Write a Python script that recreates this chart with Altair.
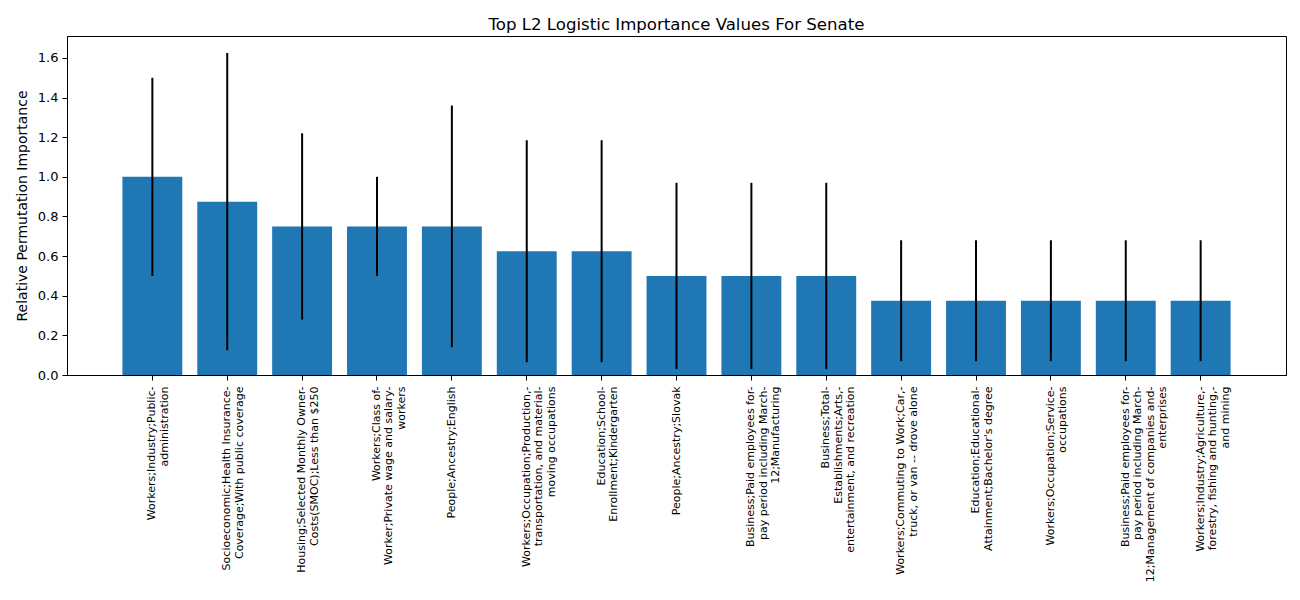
import altair as alt
import pandas as pd

labels = [
    "Workers;Industry;Public-\nadministration",
    "Socioeconomic;Health Insurance-\nCoverage;With public coverage",
    "Housing;Selected Monthly Owner-\nCosts(SMOC);Less than $250",
    "Workers;Class of-\nWorker;Private wage and salary-\nworkers",
    "People;Ancestry;English",
    "Workers;Occupation;Production,-\ntransportation, and material-\nmoving occupations",
    "Education;School-\nEnrollment;Kindergarten",
    "People;Ancestry;Slovak",
    "Business;Paid employees for-\npay period including March-\n12;Manufacturing",
    "Business;Total-\nEstablishments;Arts,-\nentertainment, and recreation",
    "Workers;Commuting to Work;Car,-\ntruck, or van -- drove alone",
    "Education;Educational-\nAttainment;Bachelor's degree",
    "Workers;Occupation;Service-\noccupations",
    "Business;Paid employees for-\npay period including March-\n12;Management of companies and-\nenterprises",
    "Workers;Industry;Agriculture,-\nforestry, fishing and hunting,-\nand mining",
]
values = [1.0, 0.875, 0.75, 0.75, 0.75, 0.625, 0.625, 0.5, 0.5, 0.5,
          0.375, 0.375, 0.375, 0.375, 0.375]
errors = [0.5, 0.75, 0.47, 0.25, 0.61, 0.56, 0.56, 0.47, 0.47, 0.47,
          0.305, 0.305, 0.305, 0.305, 0.305]

df = pd.DataFrame({"label": labels, "value": values, "err": errors})
df["lo"] = df["value"] - df["err"]
df["hi"] = df["value"] + df["err"]

FONT = "DejaVu Sans"

xenc = alt.X(
    "label:N",
    sort=None,
    title=None,
    scale=alt.Scale(paddingInner=0.2, paddingOuter=0.74),
    axis=alt.Axis(
        labelAngle=-90,
        labelExpr="split(datum.label, '\\n')",
        labelFontSize=11,
        labelLineHeight=12.5,
        labelLimit=500,
        labelPadding=6,
        tickSize=5,
        labelColor="black",
        tickColor="black",
        domainColor="black",
        labelFont=FONT,
    ),
)

yscale = alt.Scale(domain=[0, 1.711], nice=False, zero=True)

bars = alt.Chart(df).mark_bar(color="#1f77b4").encode(
    x=xenc,
    y=alt.Y(
        "value:Q",
        scale=yscale,
        title="Relative Permutation Importance",
        axis=alt.Axis(
            values=[0, 0.2, 0.4, 0.6, 0.8, 1.0, 1.2, 1.4, 1.6],
            format=".1f",
            grid=False,
            labelFontSize=13,
            titleFontSize=14,
            titleFontWeight="normal",
            labelColor="black",
            tickColor="black",
            domainColor="black",
            titleColor="black",
            tickSize=5,
            labelPadding=4,
            titlePadding=8,
            labelFont=FONT,
            titleFont=FONT,
        ),
    ),
)

err = alt.Chart(df).mark_rule(color="black", strokeWidth=2).encode(
    x=alt.X("label:N", sort=None),
    y=alt.Y("lo:Q", scale=yscale),
    y2="hi:Q",
)

chart = (
    alt.layer(bars, err)
    .properties(
        width=1219,
        height=339,
        title=alt.TitleParams(
            "Top L2 Logistic Importance Values For Senate",
            fontSize=16.6,
            fontWeight="normal",
            font=FONT,
            color="black",
            offset=2,
        ),
        padding={"left": 7, "top": 9, "right": 5, "bottom": 5},
    )
    .configure_view(stroke="black", strokeWidth=1)
)

chart.save("out.html", embed_options={"renderer": "svg", "actions": False})
